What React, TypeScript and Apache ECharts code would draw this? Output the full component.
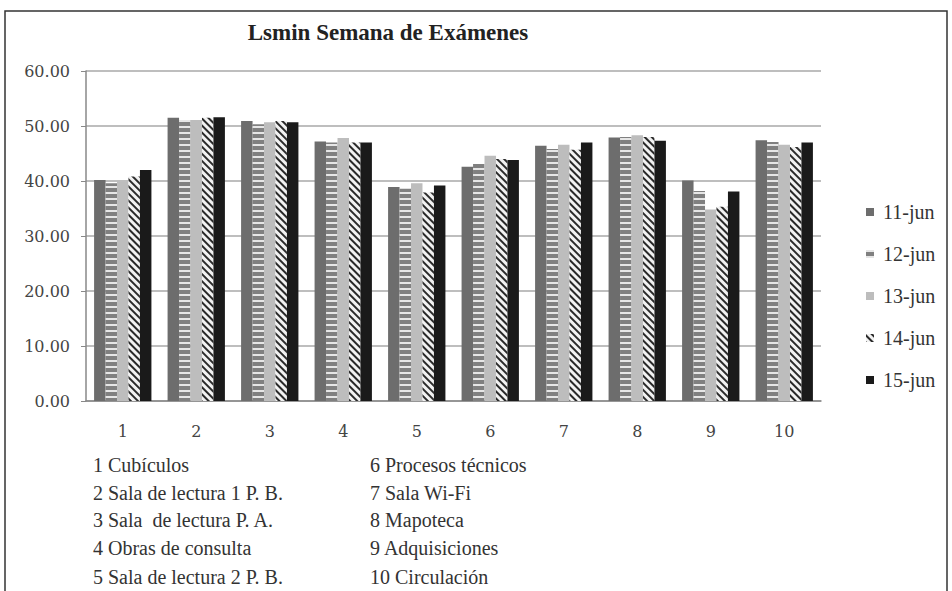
import React, { useEffect, useRef } from "react";
import * as echarts from "echarts";

const titleText = "Lsmin Semana de Exámenes";
const categories = ["1", "2", "3", "4", "5", "6", "7", "8", "9", "10"];
const seriesNames = ["11-jun", "12-jun", "13-jun", "14-jun", "15-jun"];
const jun11 = [40.2, 51.5, 50.9, 47.2, 38.9, 42.6, 46.4, 47.9, 40.1, 47.4];
const jun12 = [39.6, 51.1, 50.3, 47.0, 38.6, 43.1, 45.8, 48.0, 38.2, 47.1];
const jun13 = [39.9, 51.1, 50.7, 47.8, 39.6, 44.6, 46.6, 48.3, 34.8, 46.6];
const jun14 = [40.8, 51.5, 50.9, 47.0, 37.9, 44.0, 45.7, 48.0, 35.3, 46.2];
const jun15 = [42.0, 51.6, 50.7, 47.0, 39.2, 43.8, 47.0, 47.3, 38.1, 47.0];
const yTicks = { min: 0, max: 60, interval: 10 };
const notesLeft = [
  "1 Cubículos",
  "2 Sala de lectura 1 P. B.",
  "3 Sala  de lectura P. A.",
  "4 Obras de consulta",
  "5 Sala de lectura 2 P. B.",
];
const notesRight = [
  "6 Procesos técnicos",
  "7 Sala Wi-Fi",
  "8 Mapoteca",
  "9 Adquisiciones",
  "10 Circulación",
];

const SERIF = "Liberation Serif, Times New Roman, Times, serif";

export default function App() {
  const ref = useRef<HTMLDivElement>(null);
  useEffect(() => {
    if (!ref.current) return;
    const chart = echarts.init(ref.current, null, { renderer: "svg" });
    const values = [jun11, jun12, jun13, jun14, jun15];
    const styles: any[] = [
      { color: "#6d6d6d" },
      {
        color: "#808080",
        decal: {
          color: "#e6e6e6",
          symbol: "rect",
          symbolSize: 1,
          dashArrayX: [1, 0],
          dashArrayY: [2, 4],
          rotation: 0,
        },
      },
      { color: "#bdbdbd" },
      {
        color: "#f2f2f2",
        decal: {
          color: "#2a2a2a",
          symbol: "rect",
          symbolSize: 1,
          dashArrayX: [1, 0],
          dashArrayY: [2, 3],
          rotation: Math.PI / 4,
        },
      },
      { color: "#1a1a1a" },
    ];
    const lineY = [465, 493, 520, 548, 577];
    const noteEls: any[] = [];
    const noteStyle = (t: string) => ({
      text: t,
      fill: "#333",
      fontFamily: SERIF,
      fontSize: 20,
      textVerticalAlign: "middle",
    });
    notesLeft.forEach((t, i) =>
      noteEls.push({ type: "text", x: 93, y: lineY[i], style: noteStyle(t) })
    );
    notesRight.forEach((t, i) =>
      noteEls.push({ type: "text", x: 370, y: lineY[i], style: noteStyle(t) })
    );
    chart.setOption({
      animation: false,
      backgroundColor: "#ffffff",
      textStyle: { fontFamily: SERIF },
      grid: { left: 86, right: 131, top: 71, bottom: 190 },
      legend: {
        orient: "vertical",
        left: 861,
        top: 197,
        itemWidth: 8,
        itemHeight: 8,
        itemGap: 22,
        icon: "rect",
        data: seriesNames,
        textStyle: {
          fontFamily: SERIF,
          fontSize: 20,
          color: "#333",
          padding: [0, 0, 0, 4],
        },
      },
      xAxis: {
        type: "category",
        data: categories,
        axisLine: { lineStyle: { color: "#888", width: 1.5 } },
        axisTick: { length: 5, lineStyle: { color: "#888" } },
        axisLabel: {
          margin: 22,
          color: "#444",
          fontFamily: "DejaVu Serif",
          fontSize: 16,
        },
      },
      yAxis: {
        type: "value",
        min: yTicks.min,
        max: yTicks.max,
        interval: yTicks.interval,
        axisLine: { show: true, lineStyle: { color: "#888", width: 1.5 } },
        axisTick: { show: true, length: 5, lineStyle: { color: "#888" } },
        splitLine: { lineStyle: { color: "#a8a8a8", width: 1.5 } },
        axisLabel: {
          margin: 16,
          color: "#444",
          fontFamily: "DejaVu Serif",
          fontSize: 16,
          formatter: (v: number) => v.toFixed(2),
        },
      },
      series: seriesNames.map((name, i) => ({
        name,
        type: "bar",
        data: values[i],
        barGap: "0%",
        barCategoryGap: "22%",
        itemStyle: styles[i],
      })),
      graphic: [
        {
          type: "rect",
          shape: { x: 5, y: 11, width: 942, height: 600 },
          style: { fill: "none", stroke: "#333", lineWidth: 1.5 },
          silent: true,
        },
        {
          type: "text",
          x: 388,
          y: 32,
          style: {
            text: titleText,
            fill: "#222",
            fontFamily: SERIF,
            fontWeight: "bold",
            fontSize: 23,
            textAlign: "center",
            textVerticalAlign: "middle",
          },
        },
        ...noteEls,
      ],
    });
    return () => chart.dispose();
  }, []);
  return (
    <div
      ref={ref}
      style={{
        position: "absolute",
        left: 0,
        top: 0,
        width: 952,
        height: 591,
        background: "#fff",
      }}
    />
  );
}
